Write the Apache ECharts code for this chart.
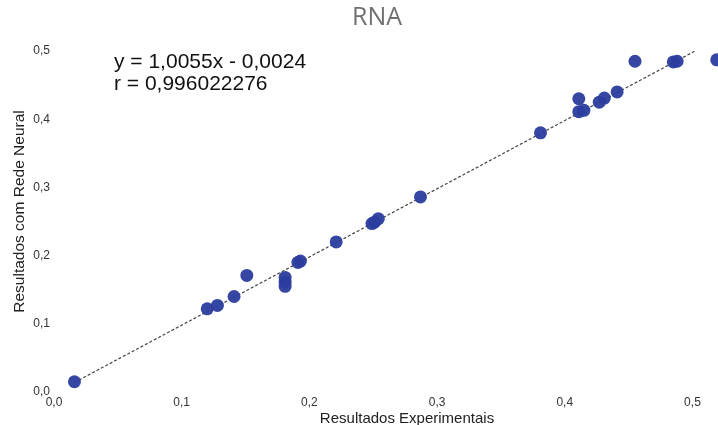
<!DOCTYPE html>
<html>
<head>
<meta charset="utf-8">
<script src="https://cdn.jsdelivr.net/npm/echarts@6/dist/echarts.min.js"></script>
<style>
  html, body { margin: 0; padding: 0; background: #fff; }
  #chart { width: 718px; height: 425px; }
</style>
</head>
<body>
<div id="chart"></div>
<script>
const TITLE = "RNA";
const X_NAME = "Resultados Experimentais";
const Y_NAME = "Resultados com Rede Neural";
const EQUATION = "y = 1,0055x - 0,0024";
const CORRELATION = "r = 0,996022276";

const expValues = [0.016, 0.120, 0.128, 0.141, 0.151, 0.181, 0.181, 0.181, 0.191, 0.193, 0.221,
  0.249, 0.251, 0.254, 0.287, 0.381, 0.411, 0.411, 0.415, 0.427, 0.431, 0.441, 0.455, 0.485, 0.488, 0.519];
const rnaValues = [0.015, 0.122, 0.127, 0.140, 0.171, 0.168, 0.161, 0.155, 0.190, 0.192, 0.220,
  0.247, 0.249, 0.254, 0.286, 0.380, 0.430, 0.411, 0.413, 0.425, 0.431, 0.440, 0.485, 0.484, 0.485, 0.487];

// ends of the dashed regression line
const trendX = [0.016, 0.502];
const trendY = [0.014, 0.500];

const fmt = (v) => v.toFixed(1).replace(".", ",");

const chart = echarts.init(document.getElementById("chart"), null, { renderer: "canvas" });

chart.setOption({
  animation: false,
  grid: { left: 54, right: 0, top: 51, bottom: 33, containLabel: false, outerBoundsMode: "none" },
  xAxis: {
    type: "value",
    min: 0,
    max: 0.52,
    interval: 0.1,
    name: X_NAME,
    nameLocation: "middle",
    nameGap: 19,
    nameMoveOverlap: false,
    nameTextStyle: { fontFamily: "Liberation Sans", fontSize: 15, color: "#222", padding: [0, 0, 0, 42] },
    axisLine: { show: false },
    axisTick: { show: false },
    splitLine: { show: false },
    axisLabel: {
      showMaxLabel: false,
      margin: 5,
      fontFamily: "Liberation Sans",
      fontSize: 12,
      color: "#333",
      formatter: (v) => fmt(v)
    }
  },
  yAxis: {
    type: "value",
    min: 0,
    max: 0.5,
    interval: 0.1,
    name: Y_NAME,
    nameLocation: "middle",
    nameGap: 26,
    nameMoveOverlap: false,
    nameRotate: 90,
    nameTextStyle: { fontFamily: "Liberation Sans", fontSize: 15.5, color: "#222", padding: [0, 0, 0, 20] },
    axisLine: { show: false },
    axisTick: { show: false },
    splitLine: { show: false },
    axisLabel: {
      margin: 4,
      fontFamily: "Liberation Sans",
      fontSize: 12,
      color: "#333",
      formatter: (v) => fmt(v)
    }
  },
  graphic: [
    {
      type: "text",
      x: 377,
      y: 5,
      style: {
        text: TITLE,
        align: "center",
        fontFamily: "Open Sans",
        fontSize: 25,
        fill: "#707070"
      }
    },
    {
      type: "text",
      x: 114,
      y: 51,
      style: {
        text: EQUATION + "\n" + CORRELATION,
        fontFamily: "Liberation Sans",
        fontSize: 21,
        lineHeight: 22,
        fill: "#111"
      }
    }
  ],
  series: [
    {
      type: "line",
      data: trendX.map((x, i) => [x, trendY[i]]),
      showSymbol: false,
      lineStyle: { color: "#444", width: 1.2, type: [3, 2] },
      z: 1
    },
    {
      type: "scatter",
      data: expValues.map((x, i) => [x, rnaValues[i]]),
      symbolSize: 13,
      itemStyle: { color: "#2b3d9e", opacity: 0.95 },
      z: 2
    }
  ]
});
</script>
</body>
</html>
